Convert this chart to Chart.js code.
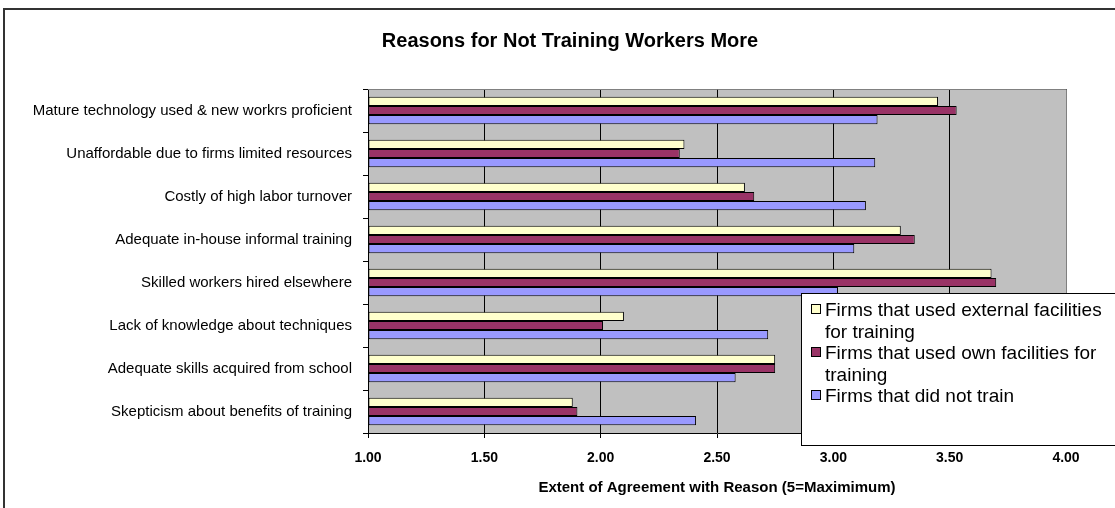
<!DOCTYPE html>
<html>
<head>
<meta charset="utf-8">
<script src="https://cdn.jsdelivr.net/npm/chart.js@4.4.1/dist/chart.umd.min.js"></script>
<style>
  html, body { margin: 0; padding: 0; background: #fff; }
  #wrap { width: 1115px; height: 508px; }
</style>
</head>
<body>
<div id="wrap"><canvas id="chart" width="1115" height="508"></canvas></div>
<script>
const chartTitle = 'Reasons for Not Training Workers More'
const reasons = [
  'Mature technology used & new workrs proficient',
  'Unaffordable due to firms limited resources',
  'Costly of high labor turnover',
  'Adequate in-house informal training',
  'Skilled workers hired elsewhere',
  'Lack of knowledge about techniques',
  'Adequate skills acquired from school',
  'Skepticism about benefits of training'
]
const externalFacilities = [3.45, 2.36, 2.62, 3.29, 3.68, 2.10, 2.75, 1.88]
const ownFacilities = [3.53, 2.34, 2.66, 3.35, 3.70, 2.01, 2.75, 1.90]
const didNotTrain = [3.19, 3.18, 3.14, 3.09, 3.02, 2.72, 2.58, 2.41]
const seriesNames = [
  'Firms that used external facilities for training',
  'Firms that used own facilities for training',
  'Firms that did not train'
]
const seriesColors = ['#FFFFCC', '#993366', '#9999FF']

const FONT = '"Liberation Sans", Arial, sans-serif'

// grey plot area, frame, title and the boxed legend with wrapped text
const excelLook = {
  id: 'excelLook',
  beforeDraw(chart) {
    const { ctx, chartArea: a } = chart
    ctx.save()
    ctx.fillStyle = '#C0C0C0'
    ctx.fillRect(a.left, a.top, a.right - a.left, a.bottom - a.top)
    ctx.restore()
  },
  afterDraw(chart) {
    const { ctx, chartArea: a } = chart
    ctx.save()
    // plot border top / right
    ctx.strokeStyle = '#808080'
    ctx.lineWidth = 1
    ctx.beginPath()
    ctx.moveTo(a.left, a.top + 0.5)
    ctx.lineTo(a.right + 0.5, a.top + 0.5)
    ctx.lineTo(a.right + 0.5, a.bottom)
    ctx.stroke()

    // outer frame
    ctx.strokeStyle = '#333'
    ctx.lineWidth = 2
    ctx.strokeRect(4, 9, 1300, 700)

    // title (off-centre like the original sheet)
    ctx.fillStyle = '#000'
    ctx.font = 'bold 20px ' + FONT
    ctx.textAlign = 'center'
    ctx.textBaseline = 'middle'
    ctx.fillText(chartTitle, 570, 41)

    // legend
    const lx = 801.5, ly = 293.5
    ctx.fillStyle = '#fff'
    ctx.fillRect(lx, ly, 400, 152)
    ctx.strokeStyle = '#000'
    ctx.lineWidth = 1
    ctx.strokeRect(lx, ly, 400, 152)
    ctx.font = '19px ' + FONT
    ctx.textAlign = 'left'
    const maxW = 292
    let y = 311
    chart.data.datasets.forEach(ds => {
      const words = ds.label.split(' ')
      const lines = []
      let line = ''
      words.forEach(w => {
        const test = line ? line + ' ' + w : w
        if (ctx.measureText(test).width > maxW && line) {
          lines.push(line)
          line = w
        } else {
          line = test
        }
      })
      lines.push(line)
      ctx.fillStyle = ds.backgroundColor
      ctx.fillRect(811.5, y - 6.5, 9, 9)
      ctx.strokeStyle = '#000'
      ctx.strokeRect(811.5, y - 6.5, 9, 9)
      ctx.fillStyle = '#000'
      lines.forEach(l => {
        ctx.fillText(l, 825, y)
        y += 21.5
      })
    })
    ctx.restore()
  }
}

const bar = (i, data) => ({
  label: seriesNames[i],
  data: data,
  base: 1,
  backgroundColor: seriesColors[i],
  borderColor: '#000',
  borderWidth: 1,
  borderSkipped: false,
  categoryPercentage: 0.64,
  barPercentage: 1.0
})

new Chart(document.getElementById('chart'), {
  type: 'bar',
  data: {
    labels: reasons,
    datasets: [
      bar(0, externalFacilities),
      bar(1, ownFacilities),
      bar(2, didNotTrain)
    ]
  },
  options: {
    indexAxis: 'y',
    responsive: false,
    animation: false,
    devicePixelRatio: 1,
    layout: { padding: { left: 0, right: 49, top: 89, bottom: 0 } },
    plugins: {
      legend: { display: false },
      tooltip: { enabled: false },
      title: { display: false }
    },
    scales: {
      x: {
        type: 'linear',
        min: 1,
        max: 4,
        ticks: {
          stepSize: 0.5,
          color: '#000',
          font: { family: FONT, size: 14, weight: 'bold' },
          padding: 12,
          callback: v => v.toFixed(2)
        },
        grid: { color: '#000', lineWidth: 1, tickLength: 5, drawTicks: true },
        border: { color: '#000' },
        title: {
          display: true,
          text: 'Extent of Agreement with Reason (5=Maximimum)',
          color: '#000',
          font: { family: FONT, size: 15, weight: 'bold' },
          padding: { top: 0, bottom: 11 }
        },
        afterFit: s => { s.height = 75 }
      },
      y: {
        ticks: {
          color: '#000',
          font: { family: FONT, size: 15 },
          padding: 11
        },
        grid: { offset: true, drawOnChartArea: false, color: '#000', tickLength: 5 },
        border: { color: '#000' },
        afterFit: s => { s.width = 368 }
      }
    }
  },
  plugins: [excelLook]
})
</script>
</body>
</html>
